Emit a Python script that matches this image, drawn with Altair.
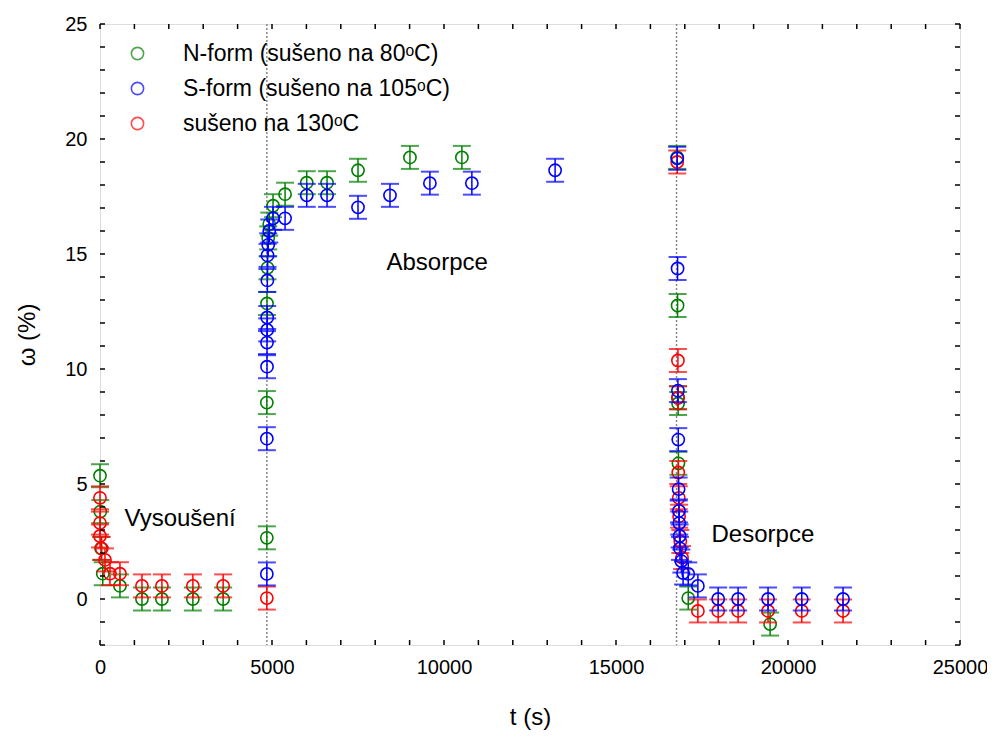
import altair as alt
import pandas as pd

# ---- data ----
N_T = [0, 10, 30, 80, 580, 1220, 1800, 2700, 3580, 4850, 4850, 4855, 4870, 4890, 4920, 5030, 5380,
       6010, 6600, 7500, 9010, 10520, 16780, 16790, 16800, 16805, 16815, 17100, 19480]
N_W = [5.36, 3.8, 2.2, 1.1, 0.57, 0.0, 0.0, 0.0, 0.0, 2.66, 8.54, 12.85, 14.4, 15.7, 16.3, 17.1, 17.6,
       18.1, 18.1, 18.64, 19.2, 19.2, 19.2, 12.76, 8.75, 8.5, 5.9, 0.04, -1.09]

S_T = [4850, 4850, 4855, 4855, 4860, 4860, 4865, 4870, 4890, 4920, 5030, 5380, 6010, 6600, 7500,
       8430, 9590, 10810, 13230, 16780, 16790, 16800, 16810, 16820, 16830, 16840, 16850, 16860,
       16900, 16950, 17100, 17380, 17970, 18550, 19420, 20400, 21600]
S_W = [1.09, 6.97, 10.1, 11.15, 11.7, 12.24, 13.85, 14.94, 15.4, 16.0, 16.55, 16.55, 17.55, 17.55,
       17.03, 17.55, 18.08, 18.08, 18.64, 19.16, 14.37, 9.06, 6.93, 4.78, 3.83, 3.3, 2.74, 2.2,
       1.65, 1.13, 1.09, 0.57, 0.0, 0.0, 0.0, 0.0, 0.0]

R_T = [0, 0, 0, 50, 145, 290, 580, 1220, 1800, 2700, 3580, 4850, 16780, 16800, 16805, 16810,
       16825, 16835, 16870, 16920, 17380, 17970, 18550, 19420, 20400, 21600]
R_W = [4.4, 3.3, 2.74, 2.2, 1.7, 1.1, 1.1, 0.57, 0.57, 0.57, 0.57, 0.04, 19.0, 10.37, 8.75, 5.5,
       4.4, 3.6, 2.5, 1.8, -0.52, -0.52, -0.52, -0.52, -0.52, -0.52]

ERR = 0.5

LABELS = ["N-form (sušeno na 80ᵒC)", "S-form (sušeno  na 105ᵒC)", "sušeno na 130ᵒC"]
COLORS = ["#008000", "#0000ff", "#ff0000"]

VLINES = [4850, 16760]
ANNOT_TEXT = ["Vysoušení", "Absorpce", "Desorpce"]
ANNOT_T = [2330, 9800, 19270]
ANNOT_W = [3.5, 14.6, 2.8]

X_MINOR = list(range(0, 25001, 1000))
Y_MINOR = list(range(-2, 26))
X_LABELS = [0, 5000, 10000, 15000, 20000, 25000]
Y_LABELS = [0, 5, 10, 15, 20, 25]

W, H = 860, 621
FONT = "Liberation Sans"

xs = alt.Scale(domain=[0, 25000], nice=False, zero=False)
ys = alt.Scale(domain=[-2, 25], nice=False, zero=False)


def frame(t, w, lab, col):
    return pd.DataFrame({"t": t, "w": w, "series": lab, "col": col,
                         "lo": [v - ERR for v in w], "hi": [v + ERR for v in w]})


series = [frame(N_T, N_W, LABELS[0], COLORS[0]),
          frame(R_T, R_W, LABELS[2], COLORS[2]),
          frame(S_T, S_W, LABELS[1], COLORS[1])]

x_axis = alt.Axis(values=X_LABELS, format="d", domain=False, ticks=False, grid=False,
                  labelFontSize=20, labelPadding=12, title="t (s)", titleFontSize=24,
                  titleFontWeight="normal", titlePadding=28, labelFlush=False)
y_axis = alt.Axis(values=Y_LABELS, domain=False, ticks=False, grid=False,
                  labelFontSize=20, labelPadding=13, title="ω (%)", titleFontSize=24,
                  titleFontWeight="normal", titlePadding=25)

layers = []

# dotted phase separators
vl = alt.Chart(pd.DataFrame({"t": VLINES})).mark_rule(
    color="#888888", strokeDash=[2, 2], strokeWidth=1.5
).encode(x=alt.X("t:Q", scale=xs, axis=x_axis))
layers.append(vl)

legend = alt.Legend(orient="none", legendX=26, legendY=18, title=None, labelFontSize=23,
                    labelFont=FONT, symbolSize=150, symbolStrokeWidth=1.6, symbolType="circle",
                    rowPadding=11, labelOffset=34, labelColor="black", labelLimit=0)

for df in series:
    base = alt.Chart(df)
    rule = base.mark_rule(strokeWidth=1.5).encode(
        x=alt.X("t:Q", scale=xs, axis=x_axis),
        y=alt.Y("lo:Q", scale=ys, axis=y_axis),
        y2="hi:Q",
        color=alt.Color("col:N", scale=None),
    )
    cap_lo = base.mark_tick(orient="horizontal", size=18, thickness=2).encode(
        x=alt.X("t:Q", scale=xs), y=alt.Y("lo:Q", scale=ys),
        color=alt.Color("col:N", scale=None),
    )
    cap_hi = base.mark_tick(orient="horizontal", size=18, thickness=2).encode(
        x=alt.X("t:Q", scale=xs), y=alt.Y("hi:Q", scale=ys),
        color=alt.Color("col:N", scale=None),
    )
    pts = base.mark_point(filled=False, shape="circle", size=150, strokeWidth=1.6, opacity=1).encode(
        x=alt.X("t:Q", scale=xs), y=alt.Y("w:Q", scale=ys),
        color=alt.Color("series:N", scale=alt.Scale(domain=LABELS, range=COLORS), legend=legend),
    )
    layers += [rule, cap_lo, cap_hi, pts]

# annotations
ann = alt.Chart(pd.DataFrame({"t": ANNOT_T, "w": ANNOT_W, "s": ANNOT_TEXT})).mark_text(
    fontSize=24, font=FONT, color="black"
).encode(x=alt.X("t:Q", scale=xs), y=alt.Y("w:Q", scale=ys), text="s:N")
layers.append(ann)

# inward ticks on all four sides
xt = pd.DataFrame({"v": X_MINOR})
yt = pd.DataFrame({"v": Y_MINOR})
tk = dict(color="black", strokeWidth=1.5)
layers.append(alt.Chart(xt).mark_rule(**tk).encode(
    x=alt.X("v:Q", scale=xs), y=alt.value(H), y2=alt.value(H - 5)))
layers.append(alt.Chart(xt).mark_rule(**tk).encode(
    x=alt.X("v:Q", scale=xs), y=alt.value(0), y2=alt.value(5)))
layers.append(alt.Chart(yt).mark_rule(**tk).encode(
    y=alt.Y("v:Q", scale=ys), x=alt.value(0), x2=alt.value(5)))
layers.append(alt.Chart(yt).mark_rule(**tk).encode(
    y=alt.Y("v:Q", scale=ys), x=alt.value(W - 5), x2=alt.value(W)))

chart = alt.layer(*layers).properties(
    width=W, height=H,
    autosize=alt.AutoSizeParams(type="none"),
    padding={"left": 92, "top": 16, "right": 27, "bottom": 91},
).configure_view(
    stroke="black", strokeWidth=2
).configure_axis(
    labelFont=FONT, titleFont=FONT, labelColor="black", titleColor="black"
).configure(background="white")

chart.save("out.html", embed_options={"renderer": "svg", "actions": False})
